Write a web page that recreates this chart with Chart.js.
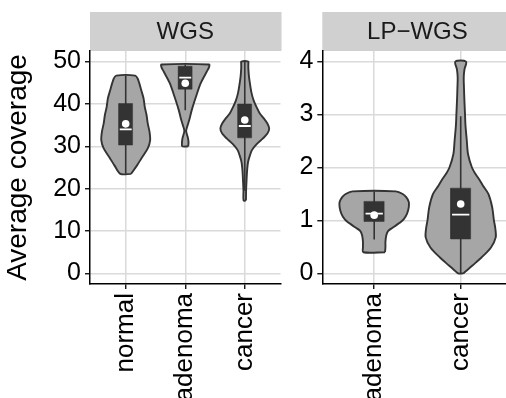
<!DOCTYPE html>
<html>
<head>
<meta charset="utf-8">
<script src="https://cdn.jsdelivr.net/npm/chart.js@4/dist/chart.umd.min.js"></script>
<style>
  html, body { margin: 0; padding: 0; background: #ffffff; overflow: hidden; width: 506px; height: 398px; }
  #wrap { position: relative; width: 506px; height: 398px; overflow: hidden; }
  canvas { position: absolute; top: 0; }
  #cWGS { left: 0; }
  #cLP { left: 290px; }
</style>
</head>
<body>
<div id="wrap">
  <canvas id="cWGS" width="290" height="398"></canvas>
  <canvas id="cLP" width="230" height="398"></canvas>
</div>
<script>
// ---- categories and tick values ----
const wgsCategories = ['normal', 'adenoma', 'cancer'];
const lpCategories = ['adenoma', 'cancer'];
const wgsTicks = [0, 10, 20, 30, 40, 50];
const lpTicks = [0, 1, 2, 3, 4];

// ---- violin outlines: coverage level and density half-width at that level ----
const wgsNormalY = [23.5, 25.5, 27.3, 29.5, 31.4, 33.4, 35.4, 37.4, 39.3, 41.3, 43.3, 44.8, 46.0, 46.7];
const wgsNormalW = [0.09, 0.19, 0.27, 0.37, 0.41, 0.40, 0.37, 0.35, 0.32, 0.30, 0.26, 0.23, 0.20, 0.16];

const wgsAdenomaY = [30.0, 31.0, 32.0, 33.6, 35.0, 36.2, 38.6, 41.7, 44.9, 47.6, 48.7, 49.3];
const wgsAdenomaW = [0.05, 0.055, 0.045, 0.015, 0.04, 0.067, 0.11, 0.18, 0.26, 0.36, 0.40, 0.40];

const wgsCancerY = [17.2, 19.5, 22.0, 24.5, 26.3, 27.8, 29.1, 30.5, 31.8, 33.0, 34.2, 35.4, 36.6, 37.8, 39.2, 40.8, 42.5, 44.5, 46.5, 48.4, 49.5, 50.0];
const wgsCancerW = [0.02, 0.022, 0.03, 0.04, 0.055, 0.085, 0.12, 0.20, 0.30, 0.38, 0.41, 0.38, 0.32, 0.25, 0.20, 0.15, 0.115, 0.09, 0.07, 0.06, 0.06, 0.06];

const lpAdenomaY = [0.40, 0.50, 0.60, 0.72, 0.80, 0.87, 0.95, 1.02, 1.13, 1.25, 1.35, 1.44, 1.50, 1.55];
const lpAdenomaW = [0.125, 0.13, 0.13, 0.14, 0.16, 0.22, 0.29, 0.34, 0.38, 0.40, 0.40, 0.37, 0.33, 0.25];

const lpCancerY = [0.0, 0.07, 0.15, 0.30, 0.49, 0.68, 0.85, 1.0, 1.25, 1.5, 1.65, 1.76, 1.88, 2.0, 2.25, 2.52, 2.8, 3.0, 3.3, 3.5, 3.7, 3.85, 4.0];
const lpCancerW = [0.03, 0.08, 0.136, 0.24, 0.35, 0.405, 0.40, 0.384, 0.364, 0.32, 0.26, 0.22, 0.17, 0.13, 0.085, 0.07, 0.055, 0.05, 0.042, 0.038, 0.035, 0.043, 0.062];

// ---- box statistics per category ----
const wgsWhiskerLow = [23.5, 38.5, 19.5];
const wgsQ1 = [30.3, 43.5, 32.0];
const wgsMedian = [34.0, 46.2, 34.8];
const wgsQ3 = [40.1, 48.9, 40.0];
const wgsWhiskerHigh = [46.7, 49.3, 50.0];
const wgsMean = [35.3, 44.9, 36.2];

const lpWhiskerLow = [0.64, 0.0];
const lpQ1 = [0.98, 0.65];
const lpMedian = [1.13, 1.11];
const lpQ3 = [1.36, 1.61];
const lpWhiskerHigh = [1.55, 2.97];
const lpMean = [1.10, 1.31];

// ---- styling ----
const FONT = "'Liberation Sans', Arial, Helvetica, sans-serif";
const VIOLIN_FILL = '#a6a6a6';
const DARK = '#333333';
const GRID = '#dadada';
const BOX_HALF = 0.115;
const MEDIAN_HALF = 0.1;

function violinPoints(xc, ys, ws) {
  const pts = [];
  for (let i = 0; i < ys.length; i++) pts.push({ x: xc + ws[i], y: ys[i] });
  for (let i = ys.length - 1; i >= 0; i--) pts.push({ x: xc - ws[i], y: ys[i] });
  pts.push({ x: pts[0].x, y: pts[0].y });
  return pts;
}

function buildDatasets(violins, lo, q1, med, q3, hi, mean) {
  const ds = [];
  violins.forEach((v, i) => {
    const xc = i + 1;
    ds.push({
      data: violinPoints(xc, v[0], v[1]),
      fill: 'shape', backgroundColor: VIOLIN_FILL, borderColor: DARK, borderWidth: 1.9,
      tension: 0.3, pointRadius: 0, borderJoinStyle: 'round', order: 5
    });
    ds.push({
      data: [{ x: xc, y: lo[i] }, { x: xc, y: hi[i] }],
      fill: false, borderColor: DARK, borderWidth: 1.6, pointRadius: 0, tension: 0, order: 4
    });
    ds.push({
      data: [{ x: xc - BOX_HALF, y: q1[i] }, { x: xc + BOX_HALF, y: q1[i] }, { x: xc + BOX_HALF, y: q3[i] },
             { x: xc - BOX_HALF, y: q3[i] }, { x: xc - BOX_HALF, y: q1[i] }],
      fill: 'shape', backgroundColor: DARK, borderColor: DARK, borderWidth: 0.5, pointRadius: 0, tension: 0, order: 3
    });
    ds.push({
      data: [{ x: xc - MEDIAN_HALF, y: med[i] }, { x: xc + MEDIAN_HALF, y: med[i] }],
      fill: false, borderColor: '#ffffff', borderWidth: 1.8, pointRadius: 0, tension: 0, order: 2
    });
    ds.push({
      data: [{ x: xc, y: mean[i] }],
      showLine: false, pointRadius: 3.8, pointBackgroundColor: '#ffffff', pointBorderWidth: 0, order: 1
    });
  });
  return ds;
}

// grey facet strip above each panel
const stripPlugin = {
  id: 'facetStrip',
  beforeDraw(chart, args, opts) {
    const { ctx, chartArea: a } = chart;
    ctx.save();
    ctx.fillStyle = '#d0d0d0';
    ctx.fillRect(a.left, opts.top, a.right - a.left + 1, a.top - opts.top);
    ctx.fillStyle = '#1a1a1a';
    ctx.font = opts.size + 'px ' + FONT;
    ctx.textAlign = 'center';
    ctx.textBaseline = 'middle';
    ctx.fillText(opts.text, (a.left + a.right) / 2, (opts.top + a.top) / 2 + 1);
    ctx.restore();
  }
};

function makeChart(canvasId, cats, ticks, yMin, yMax, datasets, strip, yWidth, padRight, withTitle) {
  return new Chart(document.getElementById(canvasId), {
    type: 'line',
    data: { datasets },
    plugins: [stripPlugin],
    options: {
      responsive: false,
      animation: false,
      events: [],
      layout: { padding: { top: 51, right: padRight, left: 0, bottom: 0 } },
      plugins: {
        legend: { display: false },
        tooltip: { enabled: false },
        facetStrip: { text: strip, top: 12, size: 24 }
      },
      scales: {
        x: {
          type: 'linear',
          min: 0.4, max: cats.length + 0.6,
          afterBuildTicks: s => { s.ticks = cats.map((c, i) => ({ value: i + 1 })); },
          afterFit: s => { s.height = 114; },
          grid: { color: GRID, lineWidth: 1.5, tickLength: 5, tickColor: '#000', tickWidth: 1.3 },
          border: { display: true, color: '#000', width: 1.5 },
          ticks: {
            autoSkip: false, minRotation: 90, maxRotation: 90, padding: 4,
            color: '#000', font: { family: FONT, size: 26 },
            callback: v => cats[Math.round(v) - 1]
          }
        },
        y: {
          type: 'linear',
          min: yMin, max: yMax,
          afterBuildTicks: s => { s.ticks = ticks.map(v => ({ value: v })); },
          afterFit: s => { s.width = yWidth; },
          grid: { color: GRID, lineWidth: 1.5, tickLength: 5, tickColor: '#000', tickWidth: 1.3 },
          border: { display: true, color: '#000', width: 1.5 },
          ticks: { color: '#000', font: { family: FONT, size: 25 }, padding: 4 },
          title: {
            display: withTitle, text: 'Average coverage', color: '#000',
            font: { family: FONT, size: 28 }, padding: { top: 1, bottom: 0 }
          }
        }
      }
    }
  });
}

makeChart('cWGS', wgsCategories, wgsTicks, -2.5, 52.5,
  buildDatasets([[wgsNormalY, wgsNormalW], [wgsAdenomaY, wgsAdenomaW], [wgsCancerY, wgsCancerW]],
    wgsWhiskerLow, wgsQ1, wgsMedian, wgsQ3, wgsWhiskerHigh, wgsMean),
  'WGS', 90, 9.5, true);

makeChart('cLP', lpCategories, lpTicks, -0.2, 4.2,
  buildDatasets([[lpAdenomaY, lpAdenomaW], [lpCancerY, lpCancerW]],
    lpWhiskerLow, lpQ1, lpMedian, lpQ3, lpWhiskerHigh, lpMean),
  'LP\u2212WGS', 32.3, 7.4, false);
</script>
</body>
</html>
